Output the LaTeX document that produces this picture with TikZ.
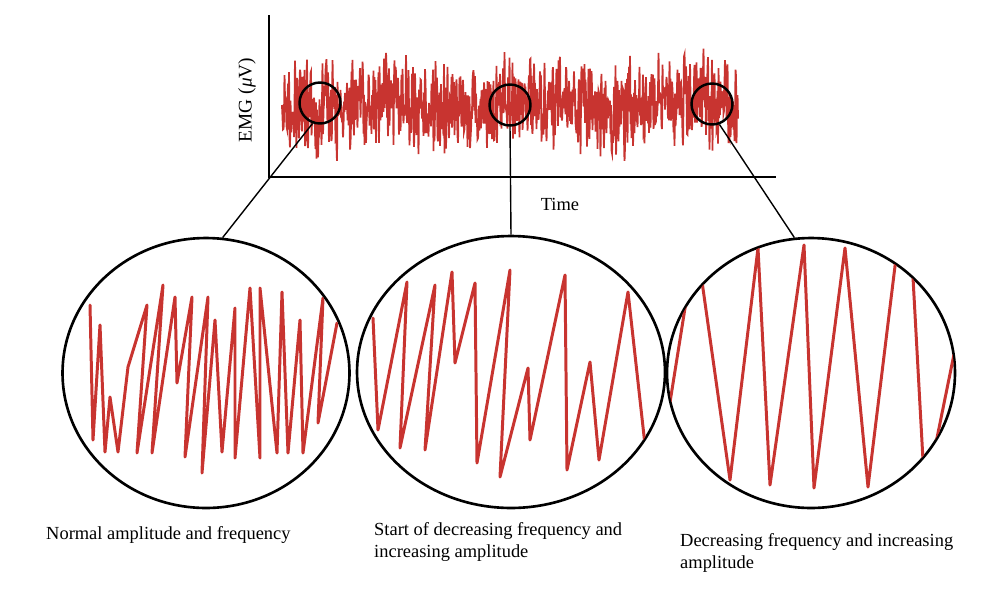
\documentclass[tikz,border=0pt]{standalone}
\usepackage{fontspec}
\setmainfont{Liberation Serif}
\usetikzlibrary{shapes.geometric}
\definecolor{emgred}{RGB}{200,52,48}
\tikzset{
  axis/.style={line width=1.5pt},
  loupe/.style={draw, circle, line width=1.4pt, minimum size=0.82cm, inner sep=0pt},
  lens/.style={draw, ellipse, line width=1.5pt, inner sep=0pt},
  link/.style={line width=0.8pt},
  zig/.style={emgred, line width=1.7pt, line join=round, line cap=round},
  caption/.style={anchor=west, align=left, font=\fontsize{10.5}{13}\selectfont}
}
\begin{document}
\begin{tikzpicture}[x=0.02cm, y=-0.02cm]
  \useasboundingbox (0,0) rectangle (1004,606);
  \pgfmathsetseed{4242}
  \draw[emgred, line width=1.05pt] (282,105)
    \foreach \i in {1,...,912} { -- ({282+0.5*\i},{105+5*sin(\i*1.2)+28*(rand+rand)}) };
  \coordinate (o) at (269,177);
  \coordinate (ytop) at (269,15);
  \coordinate (xend) at (776,177);
  \draw[axis] (ytop) -- (o) -- (xend);
  \node[rotate=90, font=\fontsize{11}{13}\selectfont] (ylab) at (247,100) {EMG (\textit{μ}V)};
  \node[font=\fontsize{10.5}{13}\selectfont] (xlab) at (560,204) {Time};
  \node[loupe] (z1) at (320,103) {};
  \node[loupe] (z2) at (510,105) {};
  \node[loupe] (z3) at (712,104) {};
  \node[lens, minimum width=5.74cm, minimum height=5.4cm] (big1) at (206,373) {};
  \node[lens, minimum width=6.16cm, minimum height=5.44cm] (big2) at (511,372) {};
  \node[lens, minimum width=5.76cm, minimum height=5.4cm] (big3) at (811,373) {};
  \begin{scope}[link]
    \draw (z1.250) to (big1.83);
    \draw (z2.south) to (big2.north);
    \draw (z3.290) to (big3.97);
  \end{scope}
  \begin{scope}
    \clip (big1.center) ellipse [x radius=142, y radius=134];
    \draw[zig] (90,305) -- (93,440) -- (100,325) -- (105,452) -- (110,397) -- (118,452)
      -- (128,367) -- (147,305) -- (137,453) -- (163,285) -- (152,453) -- (175,297)
      -- (177,383) -- (192,297) -- (185,457) -- (208,297) -- (202,473) -- (215,320)
      -- (222,452) -- (235,308) -- (235,458) -- (250,288) -- (260,458) -- (260,288)
      -- (277,453) -- (282,292) -- (288,453) -- (300,320) -- (303,453) -- (323,298)
      -- (318,423) -- (337,323);
  \end{scope}
  \begin{scope}
    \clip (big2.center) ellipse [x radius=153, y radius=135];
    \draw[zig] (373,318) -- (378,430) -- (407,282) -- (400,448) -- (435,285) -- (425,450)
      -- (452,272) -- (455,363) -- (475,283) -- (477,463) -- (510,270) -- (500,477)
      -- (528,368) -- (530,440) -- (565,275) -- (567,470) -- (590,362) -- (599,460)
      -- (628,292) -- (645,445);
  \end{scope}
  \begin{scope}
    \clip (big3.center) ellipse [x radius=143, y radius=134];
    \draw[zig] (664,440) -- (696,239) -- (730,480) -- (758,248) -- (770,485) -- (804,245)
      -- (814,488) -- (845,248) -- (868,487) -- (907,168) -- (925,497) -- (965,300);
  \end{scope}
  \node[caption] (cap1) at (40,535) {Normal amplitude and frequency};
  \node[caption] (cap2) at (368,542) {Start of decreasing frequency and\\increasing amplitude};
  \node[caption] (cap3) at (674,553) {Decreasing frequency and increasing\\amplitude};
\end{tikzpicture}
\end{document}
